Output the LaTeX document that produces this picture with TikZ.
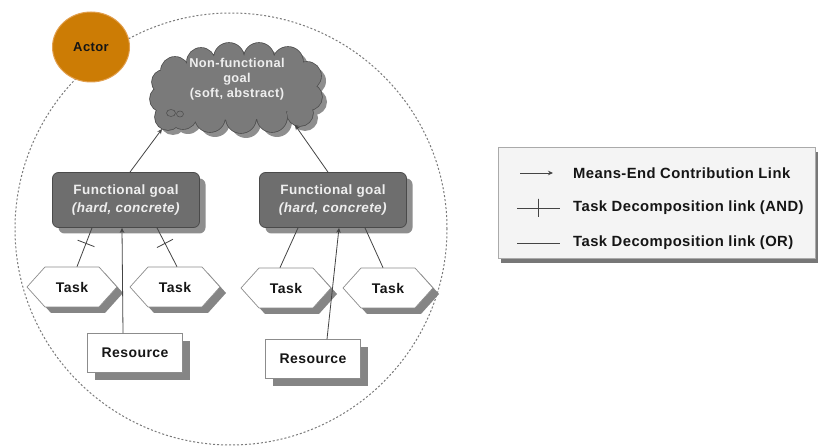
\documentclass[tikz,border=0pt]{standalone}
\usepackage{fontspec}
\setmainfont[LetterSpace=3]{Liberation Sans}
\usetikzlibrary{shapes.symbols,shapes.geometric,shadows,arrows.meta}
\definecolor{linkc}{HTML}{444444}
\definecolor{fgfill}{HTML}{6E6E6E}
\definecolor{fgdraw}{HTML}{4A4A4A}
\definecolor{fgshadow}{HTML}{8E8E8E}
\definecolor{fgtext}{HTML}{EEEEEE}
\definecolor{cloudfill}{HTML}{7A7A7A}
\definecolor{clouddraw}{HTML}{505050}
\definecolor{cloudshadow}{HTML}{8E8E8E}
\definecolor{boxdraw}{HTML}{8C8C8C}
\definecolor{boxshadow}{HTML}{858585}
\definecolor{actorfill}{HTML}{CC7C05}
\definecolor{actordraw}{HTML}{E2A050}
\definecolor{bound}{HTML}{7A7A7A}
\definecolor{legfill}{HTML}{F4F4F4}
\definecolor{legdraw}{HTML}{AAAAAA}
\definecolor{legshadow}{HTML}{777777}
\definecolor{txt}{HTML}{151515}
\tikzset{
  link/.style={draw=linkc, line width=0.8pt},
  meansend/.style={link, -{Stealth[length=5pt,width=4.5pt]}},
  andtick/.style={sloped, draw=linkc, line width=0.8pt, inner sep=0pt, minimum width=0pt, minimum height=18pt},
  fgoal/.style={rectangle, rounded corners=6pt, fill=fgfill, draw=fgdraw, line width=0.8pt,
    minimum width=147pt, minimum height=55pt, align=center, text=fgtext, inner sep=2pt,
    font=\fontsize{13.5}{18}\selectfont\bfseries,
    drop shadow={shadow xshift=6pt, shadow yshift=-6pt, fill=fgshadow, opacity=1}},
  taskbox/.style={signal, signal to=east and west, signal pointer angle=96, fill=white, draw=boxdraw,
    line width=0.7pt, minimum width=90pt, minimum height=40pt, inner sep=1pt, text=txt,
    font=\fontsize{14}{16}\selectfont\bfseries,
    drop shadow={shadow xshift=6pt, shadow yshift=-6pt, fill=boxshadow, opacity=1}},
  resbox/.style={rectangle, fill=white, draw=boxdraw, line width=0.7pt, minimum width=95pt,
    minimum height=39pt, text=txt, font=\fontsize{14}{16}\selectfont\bfseries,
    drop shadow={shadow xshift=7pt, shadow yshift=-8pt, fill=boxshadow, opacity=1}},
  puffshadow/.style={fill=cloudshadow},
  puffline/.style={draw=clouddraw, line width=1.6pt},
  pufffill/.style={fill=cloudfill},
  cloudtext/.style={align=center, text=fgtext, font=\fontsize{12.8}{15}\selectfont\bfseries, inner sep=0pt},
  actorn/.style={ellipse, fill=actorfill, draw=actordraw, line width=1pt, minimum width=77pt,
    minimum height=70pt, text=txt, font=\fontsize{13}{15}\selectfont\bfseries},
  boundary/.style={draw=bound, line width=1pt, dash pattern=on 2pt off 2pt},
  legbox/.style={rectangle, fill=legfill, draw=legdraw, line width=0.8pt, minimum width=317pt,
    minimum height=111pt, drop shadow={shadow xshift=3pt, shadow yshift=-5pt, fill=legshadow, opacity=1}},
  legtext/.style={anchor=west, inner sep=0pt, text=txt, font=\fontsize{14.8}{16}\selectfont\bfseries},
  bubble/.style={ellipse, fill=cloudfill, draw=clouddraw, line width=0.6pt, inner sep=0pt}
}
\newcommand{\puffs}{(175,71) circle[radius=14pt] (201,62) circle[radius=14pt]
  (229,58) circle[radius=15pt] (259,58) circle[radius=15pt] (288,62) circle[radius=15pt]
  (307,76) circle[radius=14pt] (309,97) circle[radius=13pt] (300,113) circle[radius=13pt]
  (272,117) circle[radius=15pt] (241,118) circle[radius=15pt] (210,117) circle[radius=15pt]
  (183,115) circle[radius=14pt] (168,117) circle[radius=13pt] (163,99) circle[radius=13pt]
  (164,82) circle[radius=12pt] (237,88) ellipse[x radius=72pt, y radius=32pt]}
\begin{document}
\begin{tikzpicture}[x=1pt,y=-1pt]
\useasboundingbox (0,0) rectangle (823,446);
\fill[white] (0,0) rectangle (823,446);

% actor boundary
\draw[boundary] (231,229) circle[radius=216pt];
\node[actorn] (actor) at (91,47) {Actor};

% soft goal (cloud)
\coordinate (nfg) at (237,88);
\begin{scope}[shift={(5,5)}]
  \fill[puffshadow] \puffs;
\end{scope}
\draw[puffline] \puffs;
\fill[pufffill] \puffs;
\node[bubble, minimum width=9pt, minimum height=7pt] (b1) at (171,113) {};
\node[bubble, minimum width=7pt, minimum height=6pt] (b2) at (180,114) {};
\node[cloudtext] (nfgt) at (237,79) {Non-functional\\goal\\(soft, abstract)};
\coordinate (nfgL) at ([shift={(-75,41)}]nfg);
\coordinate (nfgR) at ([shift={(58,37)}]nfg);

% functional goals
\node[fgoal] (fg1) at (126,200) {Functional goal\\\textit{(hard, concrete)}};
\node[fgoal] (fg2) at (333,200) {Functional goal\\\textit{(hard, concrete)}};

% tasks
\node[taskbox] (t1) at (72,287) {Task};
\node[taskbox] (t2) at (175,287) {Task};
\node[taskbox] (t3) at (286,288) {Task};
\node[taskbox] (t4) at (388,288) {Task};

% resources
\node[resbox] (r1) at (135,353) {Resource};
\node[resbox] (r2) at (313,359) {Resource};

% links to soft goal
\draw[meansend] ([xshift=4pt]fg1.north) -- (nfgL);
\draw[meansend] ([xshift=-5pt]fg2.north) -- (nfgR);

% task decompositions (AND)
\draw[link] ([xshift=-34pt]fg1.south) -- node[andtick, pos=0.4] (k1) {} ([xshift=5pt]t1.north);
\draw[link] ([xshift=31pt]fg1.south) -- node[andtick, pos=0.4] (k2) {} ([xshift=2pt]t2.north);
% task decompositions (OR)
\draw[link] ([xshift=-35pt]fg2.south) -- ([xshift=-6pt]t3.north);
\draw[link] ([xshift=32pt]fg2.south) -- ([xshift=-5pt]t4.north);

% means-end from resources
\draw[meansend] ([xshift=-12pt]r1.north) -- ([xshift=-4pt]fg1.south);
\draw[meansend] ([xshift=14pt]r2.north) -- ([xshift=6pt]fg2.south);

% legend
\node[legbox] (leg) at (656.5,202.5) {};
\coordinate (l1a) at (520,173);
\coordinate (l1b) at (553,173);
\coordinate (l2a) at (517,208);
\coordinate (l2b) at (560,208);
\coordinate (l3a) at (517,243);
\coordinate (l3b) at (560,243);
\draw[meansend] (l1a) -- (l1b);
\draw[link] (l2a) -- node[andtick, pos=0.5] (k3) {} (l2b);
\draw[link] (l3a) -- (l3b);
\node[legtext] (lt1) at (573,173) {Means-End Contribution Link};
\node[legtext] (lt2) at (573,208) {Task Decomposition link (AND)};
\node[legtext] (lt3) at (573,243) {Task Decomposition link (OR)};
\end{tikzpicture}
\end{document}
